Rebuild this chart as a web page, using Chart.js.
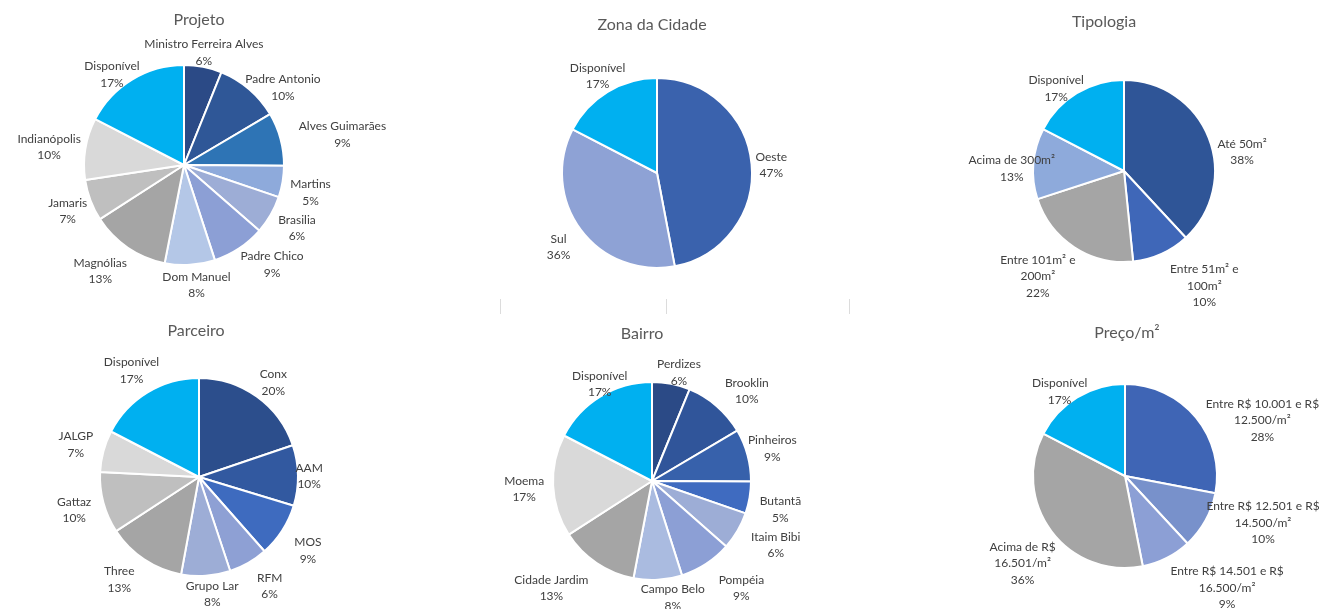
<!DOCTYPE html>
<html><head><meta charset="utf-8">
<script src="https://cdn.jsdelivr.net/npm/chart.js@4.4.0/dist/chart.umd.min.js"></script>
<style>
html,body{margin:0;padding:0;background:#fff;}
#wrap{position:relative;width:1319px;height:609px;overflow:hidden;background:#fff;}
#wrap canvas{position:absolute;left:0;top:0;}
.vline{position:absolute;width:1px;top:299px;height:15px;background:#dcdcdc;}
</style></head><body>
<div id="wrap">
  <div class="vline" style="left:500px"></div>
  <div class="vline" style="left:666px"></div>
  <div class="vline" style="left:849px"></div>
</div>
<script>
// ---------- DATA ----------
const titles = ['Projeto', 'Zona da Cidade', 'Tipologia', 'Parceiro', 'Bairro', 'Preço/m²'];

const projetoLabels = ['Ministro Ferreira Alves', 'Padre Antonio', 'Alves Guimarães', 'Martins', 'Brasilia', 'Padre Chico', 'Dom Manuel', 'Magnólias', 'Jamaris', 'Indianópolis', 'Disponível'];
const projetoValues = [6.1, 10.4, 8.6, 5.1, 6.2, 8.6, 8.1, 12.8, 6.7, 10.0, 17.4];

const zonaLabels = ['Oeste', 'Sul', 'Disponível'];
const zonaValues = [47.0, 35.6, 17.4];

const tipologiaLabels = ['Até 50m²', ['Entre 51m² e', '100m²'], ['Entre 101m² e', '200m²'], 'Acima de 300m²', 'Disponível'];
const tipologiaValues = [38.1, 10.3, 21.6, 12.6, 17.4];

const parceiroLabels = ['Conx', 'AAM', 'MOS', 'RFM', 'Grupo Lar', 'Three', 'Gattaz', 'JALGP', 'Disponível'];
const parceiroValues = [19.8, 9.9, 8.8, 6.4, 8.0, 12.9, 10.0, 6.8, 17.4];

const bairroLabels = ['Perdizes', 'Brooklin', 'Pinheiros', 'Butantã', 'Itaim Bibi', 'Pompéia', 'Campo Belo', 'Cidade Jardim', 'Moema', 'Disponível'];
const bairroValues = [6.2, 10.3, 8.6, 5.2, 6.2, 8.6, 7.9, 12.9, 16.7, 17.4];

const precoLabels = [['Entre R$ 10.001 e R$', '12.500/m²'], ['Entre R$ 12.501 e R$', '14.500/m²'], ['Entre R$ 14.501 e R$', '16.500/m²'], ['Acima de R$', '16.501/m²'], 'Disponível'];
const precoValues = [28.0, 10.1, 8.8, 35.7, 17.4];

// ---------- STYLE ----------
const DISP = '#00B0F0';
const projetoColors = ['#2B4A86', '#2F5797', '#2E74B5', '#8EAADB', '#9DADD6', '#8C9FD5', '#B4C7E7', '#A5A5A5', '#BFBFBF', '#D9D9D9', DISP];
const zonaColors = ['#3A62AD', '#8EA2D5', DISP];
const tipologiaColors = ['#2F5597', '#3F67B8', '#A5A5A5', '#8EAADB', DISP];
const parceiroColors = ['#2C4E8C', '#3259A0', '#3E6BBF', '#8EA0D4', '#9DADD6', '#A5A5A5', '#BFBFBF', '#D9D9D9', DISP];
const bairroColors = ['#2B4A86', '#30559A', '#3761AB', '#3F6BC0', '#9DADD6', '#8C9FD5', '#AABBE0', '#A5A5A5', '#D9D9D9', DISP];
const precoColors = ['#3F65B5', '#7891CB', '#8C9FD5', '#A5A5A5', DISP];

// manual data-label nudges (like dragged labels in the original), in px
const projetoNudge = [[-12, 10], [4, 17], [12, 2], [0, 7], [3, 1], [11, -4], [4, -4], [-8, 3], [3, 2], [3, 2.5], [-1.5, 16]];
const zonaNudge = [[-4, 3.5], [-6.5, 2.5], [8.5, 5]];
const tipologiaNudge = [[3, 23.5], [25.5, 2], [-11.5, 1.5], [29.5, 7], [-2, 16.5]];
const parceiroNudge = [[4, 6], [-10.5, 1], [7.5, 7], [11, 2], [4, -6], [-12, 0], [-5, 1], [-3, 0], [2.5, -1]];
const bairroNudge = [[2, 12.7], [10.5, 3.5], [-6.5, 0], [2.5, 8], [10, 2], [18.5, 3.5], [12.5, -6.5], [-20, 5], [-1, 2.5], [17.7, 8.5]];
const precoNudge = [[16.7, 24], [1, -13.6], [31, 0.5], [4, 12.3], [1, 15.3]];

const W = 1319, H = 609;
const charts = [
  {title: titles[0], labels: projetoLabels, values: projetoValues, colors: projetoColors, nudge: projetoNudge, cx: 184, cy: 165, r: 100, tx: 199, ty: 20},
  {title: titles[1], labels: zonaLabels, values: zonaValues, colors: zonaColors, nudge: zonaNudge, cx: 657, cy: 173, r: 95, tx: 652, ty: 25},
  {title: titles[2], labels: tipologiaLabels, values: tipologiaValues, colors: tipologiaColors, nudge: tipologiaNudge, cx: 1124, cy: 171, r: 91, tx: 1104, ty: 22},
  {title: titles[3], labels: parceiroLabels, values: parceiroValues, colors: parceiroColors, nudge: parceiroNudge, cx: 199, cy: 477, r: 99, tx: 196, ty: 331},
  {title: titles[4], labels: bairroLabels, values: bairroValues, colors: bairroColors, nudge: bairroNudge, cx: 652, cy: 481, r: 99, tx: 642, ty: 334},
  {title: titles[5], labels: precoLabels, values: precoValues, colors: precoColors, nudge: precoNudge, cx: 1125, cy: 476, r: 92, tx: 1127, ty: 333}
];

const FONT = 'Lato, "Open Sans", sans-serif';
const LABEL_SIZE = 12, LINE_H = 16.5, PAD = 8;

const outsideLabels = {
  id: 'outsideLabels',
  afterDatasetsDraw(chart, args, opts) {
    const ctx = chart.ctx;
    const ds = chart.data.datasets[0];
    const meta = chart.getDatasetMeta(0);
    const total = ds.data.reduce((a, b) => a + b, 0);
    ctx.save();
    ctx.font = '16px ' + FONT;
    ctx.fillStyle = '#595959';
    ctx.textAlign = 'center';
    ctx.textBaseline = 'middle';
    ctx.fillText(opts.title, opts.tx, opts.ty);
    ctx.font = LABEL_SIZE + 'px ' + FONT;
    ctx.fillStyle = '#404040';
    meta.data.forEach((arc, i) => {
      const p = arc.getProps(['x', 'y', 'startAngle', 'endAngle', 'outerRadius'], true);
      const mid = (p.startAngle + p.endAngle) / 2;
      const ux = Math.cos(mid), uy = Math.sin(mid);
      const lab = chart.data.labels[i];
      const lines = (Array.isArray(lab) ? lab.slice() : [lab]);
      lines.push(Math.round(ds.data[i] / total * 100) + '%');
      const hw = Math.max(...lines.map(l => ctx.measureText(l).width)) / 2;
      const hh = lines.length * LINE_H / 2;
      const d = p.outerRadius + PAD;
      const nd = (opts.nudge && opts.nudge[i]) || [0, 0];
      const lx = p.x + ux * d + ux * hw + nd[0];
      const ly = p.y + uy * d + uy * hh + nd[1];
      lines.forEach((l, k) => {
        ctx.fillText(l, lx, ly - hh + LINE_H * (k + 0.5));
      });
    });
    ctx.restore();
  }
};

const wrap = document.getElementById('wrap');
charts.forEach(c => {
  const cv = document.createElement('canvas');
  cv.width = W; cv.height = H;
  cv.style.width = W + 'px'; cv.style.height = H + 'px';
  wrap.appendChild(cv);
  const half = c.r + 4;
  new Chart(cv, {
    type: 'pie',
    data: {
      labels: c.labels,
      datasets: [{
        data: c.values,
        backgroundColor: c.colors,
        borderColor: '#ffffff',
        borderWidth: 2,
        radius: c.r
      }]
    },
    options: {
      responsive: false,
      animation: false,
      events: [],
      layout: {padding: {left: c.cx - half, top: c.cy - half, right: W - c.cx - half, bottom: H - c.cy - half}},
      plugins: {
        legend: {display: false},
        tooltip: {enabled: false},
        title: {display: false, text: c.title},
        outsideLabels: {title: c.title, tx: c.tx, ty: c.ty, nudge: c.nudge}
      }
    },
    plugins: [outsideLabels]
  });
});
</script>
</body></html>
